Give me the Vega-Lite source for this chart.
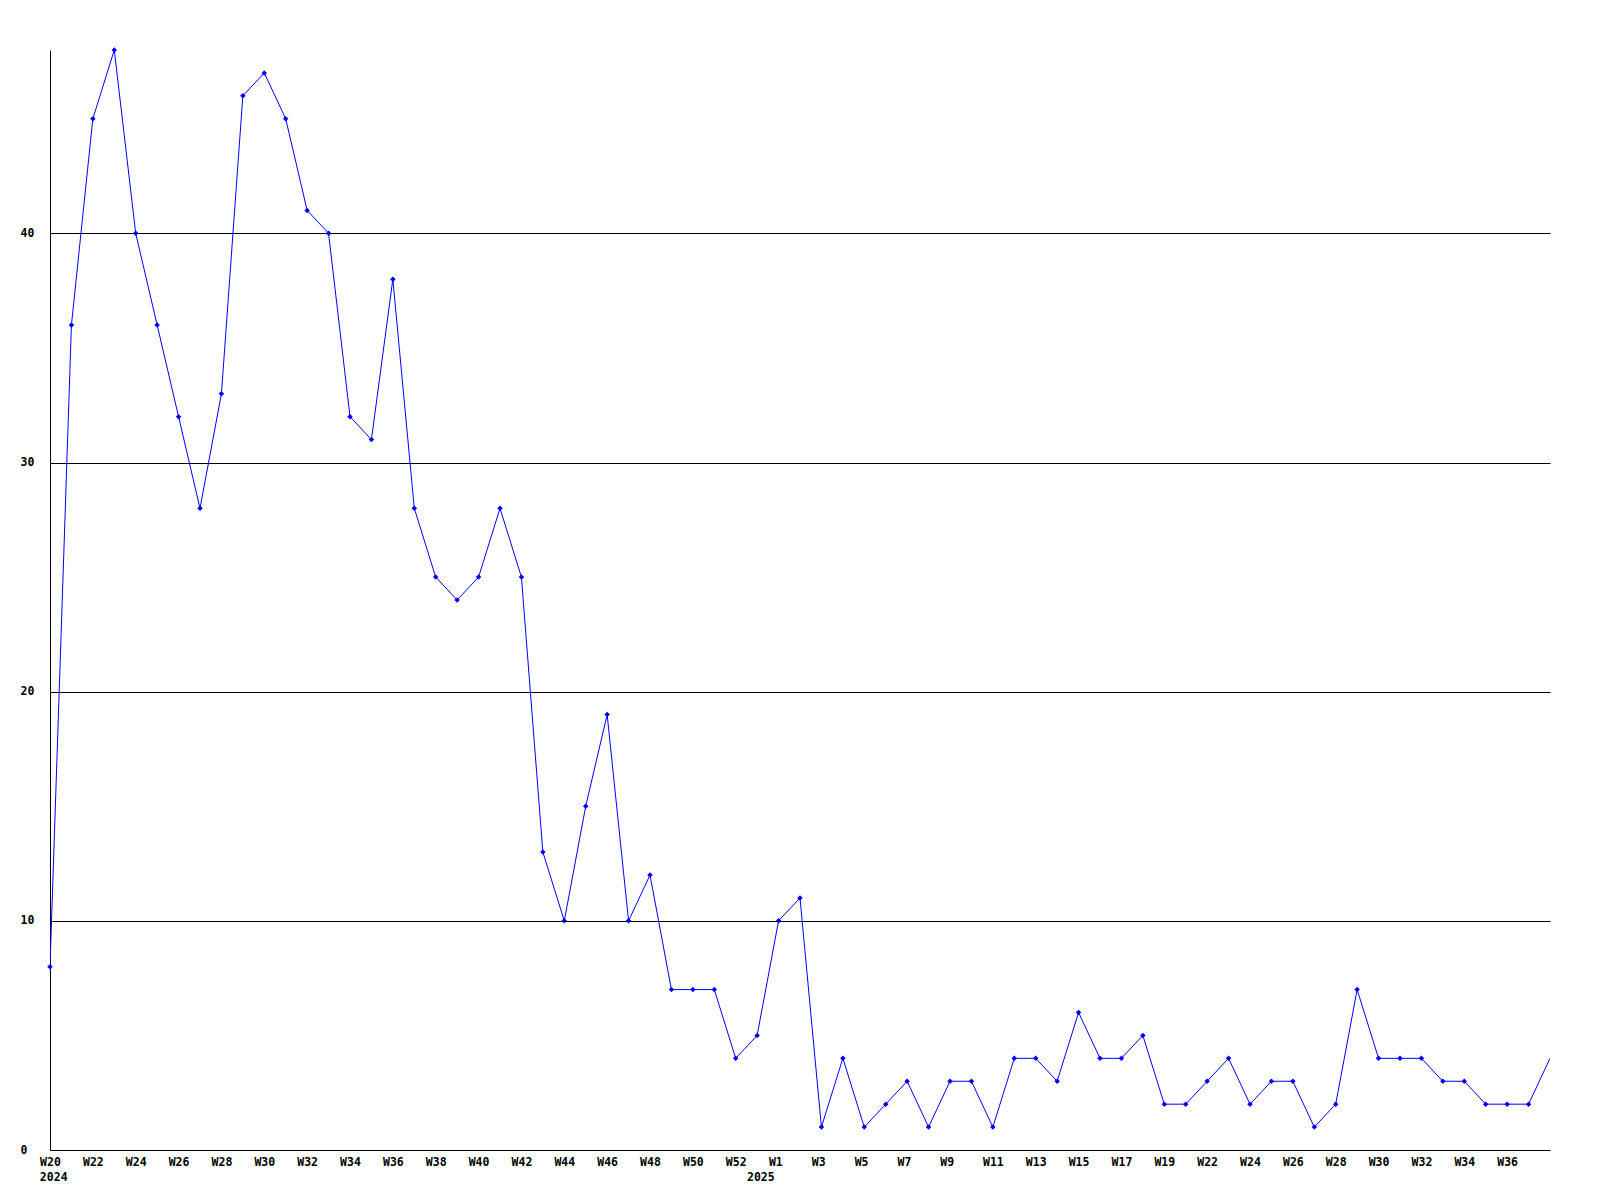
{
  "$schema": "https://vega.github.io/schema/vega-lite/v6.json",
  "autosize": "none",
  "width": 1500,
  "height": 1100,
  "padding": {"left": 50, "top": 50, "right": 50, "bottom": 50},
  "background": "white",
  "config": {
    "view": {"stroke": null},
    "font": "DejaVu Sans Mono",
    "axis": {
      "labelFont": "DejaVu Sans Mono",
      "labelFontSize": 11.5,
      "labelFontWeight": "bold",
      "labelColor": "black",
      "domainColor": "black",
      "domainWidth": 1,
      "ticks": false,
      "gridColor": "black",
      "gridOpacity": 1,
      "gridWidth": 1,
      "title": null
    }
  },
  "data": {
    "values": [
      {"i": 0, "v": 8}, {"i": 1, "v": 36}, {"i": 2, "v": 45}, {"i": 3, "v": 48},
      {"i": 4, "v": 40}, {"i": 5, "v": 36}, {"i": 6, "v": 32}, {"i": 7, "v": 28},
      {"i": 8, "v": 33}, {"i": 9, "v": 46}, {"i": 10, "v": 47}, {"i": 11, "v": 45},
      {"i": 12, "v": 41}, {"i": 13, "v": 40}, {"i": 14, "v": 32}, {"i": 15, "v": 31},
      {"i": 16, "v": 38}, {"i": 17, "v": 28}, {"i": 18, "v": 25}, {"i": 19, "v": 24},
      {"i": 20, "v": 25}, {"i": 21, "v": 28}, {"i": 22, "v": 25}, {"i": 23, "v": 13},
      {"i": 24, "v": 10}, {"i": 25, "v": 15}, {"i": 26, "v": 19}, {"i": 27, "v": 10},
      {"i": 28, "v": 12}, {"i": 29, "v": 7}, {"i": 30, "v": 7}, {"i": 31, "v": 7},
      {"i": 32, "v": 4}, {"i": 33, "v": 5}, {"i": 34, "v": 10}, {"i": 35, "v": 11},
      {"i": 36, "v": 1}, {"i": 37, "v": 4}, {"i": 38, "v": 1}, {"i": 39, "v": 2},
      {"i": 40, "v": 3}, {"i": 41, "v": 1}, {"i": 42, "v": 3}, {"i": 43, "v": 3},
      {"i": 44, "v": 1}, {"i": 45, "v": 4}, {"i": 46, "v": 4}, {"i": 47, "v": 3},
      {"i": 48, "v": 6}, {"i": 49, "v": 4}, {"i": 50, "v": 4}, {"i": 51, "v": 5},
      {"i": 52, "v": 2}, {"i": 53, "v": 2}, {"i": 54, "v": 3}, {"i": 55, "v": 4},
      {"i": 56, "v": 2}, {"i": 57, "v": 3}, {"i": 58, "v": 3}, {"i": 59, "v": 1},
      {"i": 60, "v": 2}, {"i": 61, "v": 7}, {"i": 62, "v": 4}, {"i": 63, "v": 4},
      {"i": 64, "v": 4}, {"i": 65, "v": 3}, {"i": 66, "v": 3}, {"i": 67, "v": 2},
      {"i": 68, "v": 2}, {"i": 69, "v": 2}, {"i": 70, "v": 4}
    ]
  },
  "encoding": {
    "y": {
      "field": "v",
      "type": "quantitative",
      "scale": {"domain": [0, 48], "nice": false},
      "axis": {
        "values": [0, 10, 20, 30, 40],
        "grid": true,
        "gridColor": {"condition": {"test": "datum.value == 0", "value": null}, "value": "black"},
        "labelAlign": "left",
        "labelBaseline": "middle",
        "labelPadding": 30,
        "labelFlush": false,
        "labelOverlap": false
      }
    }
  },
  "layer": [
    {
      "mark": {"type": "line", "color": "#0000ff", "strokeWidth": 1, "clip": true},
      "encoding": {
        "x": {
          "field": "i",
          "type": "quantitative",
          "scale": {"domain": [0, 70], "nice": false, "zero": false},
          "axis": {
            "orient": "bottom",
            "grid": false,
            "values": [0, 2, 4, 6, 8, 10, 12, 14, 16, 18, 20, 22, 24, 26, 28, 30, 32, 33.85, 35.85, 37.85, 39.85, 41.85, 44, 46, 48, 50, 52, 54, 56, 58, 60, 62, 64, 66, 68],
            "labelExpr": "datum.value <= 32 ? 'W' + (datum.value + 20) : datum.value < 34 ? 'W1' : datum.value < 43 ? 'W' + round(datum.value - 32.85) : datum.value < 53 ? 'W' + round(datum.value - 33) : 'W' + round(datum.value - 32)",
            "labelAlign": "center",
            "labelBaseline": "top",
            "labelPadding": 6,
            "labelOverlap": false,
            "labelFlush": false,
            "labelBound": false
          }
        }
      }
    },
    {
      "transform": [{"filter": "datum.i < 70"}],
      "mark": {"type": "point", "shape": "diamond", "filled": true, "color": "#0000ff", "size": 30, "opacity": 1},
      "encoding": {
        "x": {
          "field": "i",
          "type": "quantitative",
          "scale": {"domain": [0, 70], "nice": false, "zero": false},
          "axis": {
            "orient": "bottom",
            "grid": false,
            "domain": false,
            "values": [0.15, 33.15],
            "labelExpr": "datum.value < 1 ? '2024' : '2025'",
            "labelAlign": "center",
            "labelBaseline": "top",
            "labelPadding": 21,
            "labelOverlap": false,
            "labelFlush": false,
            "labelBound": false
          }
        }
      }
    }
  ],
  "resolve": {"axis": {"x": "independent"}}
}
